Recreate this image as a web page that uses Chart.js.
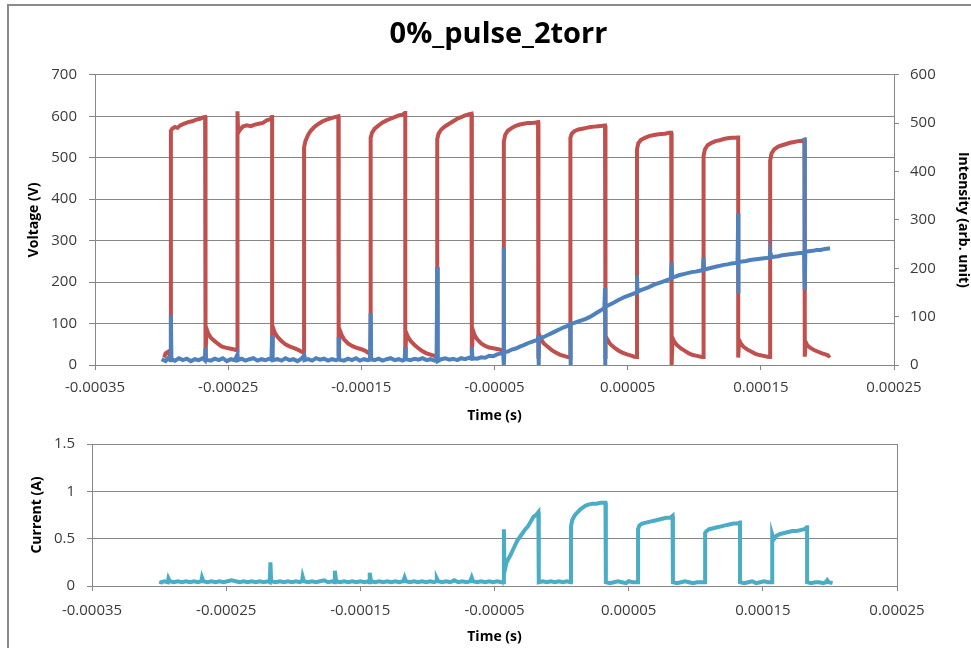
<!DOCTYPE html>
<html>
<head>
<meta charset="utf-8">
<script src="https://cdn.jsdelivr.net/npm/chart.js@4/dist/chart.umd.min.js"></script>
<style>
  html, body { margin:0; padding:0; background:#fff; width:971px; height:648px; overflow:hidden; }
  #frame { position:absolute; left:7px; top:4px; width:980px; height:660px; border-left:2px solid #8a8a8a; border-top:2px solid #8a8a8a; box-sizing:border-box; }
  canvas { position:absolute; left:0; }
  #c1 { top:0; }
  #c2 { top:430px; }
</style>
</head>
<body>
<div id="frame"></div>
<canvas id="c1" width="971" height="430"></canvas>
<canvas id="c2" width="971" height="218"></canvas>
<script>
// ---- Data (time in microseconds) ----
const chartTitle = '0%_pulse_2torr';
const xTickValues = [-0.00035, -0.00025, -0.00015, -0.00005, 0.00005, 0.00015, 0.00025];

// Voltage (V) : [time µs, volts]
const voltage = [
  [-298,18],[-297,28],[-295,32],[-294,24],[-293.2,22],
  [-293,22],[-293,565],[-292,570],[-290,574],[-288,572],[-286,578],[-283,582],[-280,586],[-277,588],[-274,592],[-271,594],[-269,597],[-267.3,598],
  [-267,598],[-267,22],[-266.3,88],[-265,76],[-263,66],[-261,60],[-258,52],[-255,45],[-252,42],[-249,40],[-246,38],[-244,36],[-243.2,35],
  [-243,35],[-243,612],[-242.5,560],[-241,568],[-239,575],[-236,578],[-233,576],[-230,580],[-227,582],[-224,584],[-221,590],[-218,593],[-217.3,598],
  [-217,598],[-217,25],[-216.3,90],[-215,78],[-213,68],[-210,58],[-207,50],[-204,45],[-200,40],[-197,36],[-195,32],[-193.2,30],
  [-193,30],[-193,525],[-192,540],[-190,555],[-188,565],[-185,575],[-182,582],[-179,588],[-176,592],[-173,595],[-170,598],[-167.3,600],
  [-167,600],[-167,22],[-166.3,85],[-165,74],[-163,62],[-160,52],[-157,46],[-154,42],[-150,38],[-147,34],[-145,30],[-143.2,28],
  [-143,28],[-143,548],[-142,560],[-140,570],[-137,578],[-134,585],[-131,590],[-128,594],[-125,598],[-122,602],[-119,604],[-117.3,608],
  [-117,608],[-117,20],[-116.3,78],[-115,68],[-113,58],[-110,48],[-107,40],[-104,33],[-101,28],[-98,25],[-95,22],[-93.2,20],
  [-93,20],[-93,545],[-92,558],[-90,568],[-87,576],[-84,582],[-81,588],[-78,594],[-75,598],[-72,602],[-69,605],[-67.3,606],
  [-67,606],[-67,28],[-66.3,85],[-65,72],[-63,62],[-60,52],[-57,46],[-54,42],[-50,40],[-47,38],[-45,36],[-43.2,35],
  [-43,35],[-43,538],[-42,555],[-40,565],[-37,572],[-34,577],[-31,580],[-28,582],[-25,584],[-22,584],[-19,585],[-17.3,586],
  [-17,586],[-17,15],[-16.3,72],[-15,62],[-13,52],[-10,44],[-7,36],[-4,30],[-1,25],[2,22],[5,19],[6.8,18],
  [7,18],[7,548],[8,558],[10,564],[13,568],[16,570],[19,572],[22,574],[25,575],[28,576],[31,577],[32.7,578],
  [33,578],[33,15],[33.7,70],[35,60],[37,50],[40,42],[43,35],[46,30],[49,26],[52,23],[55,20],[56.8,19],
  [57,19],[57,520],[58,535],[60,543],[63,548],[66,552],[69,554],[72,556],[75,557],[78,558],[81,560],[82.7,560],
  [83,560],[83,0],[83.7,65],[85,56],[87,48],[90,40],[93,34],[96,28],[99,24],[102,22],[105,20],[106.8,19],
  [107,19],[107,505],[108,520],[110,530],[113,536],[116,540],[119,542],[122,545],[125,547],[128,548],[131,548],[132.7,549],
  [133,549],[133,18],[133.7,60],[135,52],[137,44],[140,37],[143,32],[146,27],[149,24],[152,22],[155,20],[156.8,19],
  [157,19],[157,493],[158,510],[160,520],[163,527],[166,530],[169,533],[172,536],[175,538],[178,540],[181,541],[182.7,543],
  [183,543],[183,20],[183.7,55],[185,47],[187,42],[190,36],[193,32],[196,28],[199,25],[201,22],[202,24]
];

// Intensity (arb. unit) : [time µs, intensity]
const intensity = [
  [-300,12],[-297,8],[-295,14],[-293.5,10],[-293,10],[-293,103],[-292.6,12],[-290,9],[-287,14],[-284,10],[-281,13],[-278,8],[-275,12],[-272,10],[-269,14],[-267.5,10],
  [-267,35],[-266.6,11],[-263,9],[-260,13],[-257,10],[-254,14],[-251,8],[-248,12],[-245,10],[-243,22],[-242.6,10],[-240,13],[-237,9],[-234,12],[-231,14],[-228,9],[-225,12],[-222,10],[-219,13],[-217.5,11],
  [-217,62],[-216.6,10],[-213,12],[-210,9],[-207,14],[-204,10],[-201,12],[-198,8],[-195,13],[-193,20],[-192.6,10],[-190,12],[-187,9],[-184,14],[-181,11],[-178,13],[-175,9],[-172,12],[-169,10],[-167.5,12],
  [-167,58],[-166.6,11],[-163,9],[-160,13],[-157,10],[-154,14],[-151,9],[-148,12],[-145,10],[-143.5,11],[-143,107],[-142.6,12],[-140,10],[-137,13],[-134,9],[-131,12],[-128,14],[-125,10],[-122,12],[-119,9],[-117.5,11],
  [-117,37],[-116.6,12],[-113,10],[-110,13],[-107,11],[-104,14],[-101,10],[-98,12],[-95,9],[-93.5,11],[-93,202],[-92.6,8],[-90,12],[-87,14],[-84,11],[-81,13],[-78,10],[-75,14],[-72,12],[-69,15],[-67.5,13],
  [-67,37],[-66.6,14],[-63,13],[-60,16],[-57,15],[-54,19],[-51,18],[-48,22],[-45,24],[-43.5,25],[-43,243],[-43,0],[-42.6,27],[-40,28],[-37,32],[-34,34],[-31,38],[-28,41],[-25,45],[-22,48],[-19,51],[-17.5,52],
  [-17,62],[-17,0],[-16.6,54],[-13,58],[-10,62],[-7,66],[-4,70],[-1,74],[2,78],[5,81],[6.5,83],[7,72],[7,0],[7.4,85],[10,87],[13,90],[16,93],[19,96],[22,100],[25,105],[28,110],[31,115],[32.5,118],
  [33,159],[33,0],[33.4,120],[36,124],[39,128],[42,133],[45,137],[48,141],[51,144],[54,147],[56.5,150],[57,185],[57.4,151],[60,155],[63,158],[66,161],[69,165],[72,168],[75,171],[78,174],[81,177],[82.5,179],
  [83,212],[83.4,181],[86,183],[89,186],[92,188],[95,190],[98,192],[101,193],[104,195],[106.5,196],[107,222],[107.4,197],[110,199],[113,201],[116,203],[119,205],[122,207],[125,208],[128,210],[131,211],[132.5,212],
  [133,313],[133,148],[133.4,213],[136,214],[139,215],[142,217],[145,218],[148,219],[151,220],[154,221],[156.5,222],[157,232],[157.4,223],[160,224],[163,225],[166,227],[169,228],[172,229],[175,230],[178,231],[181,232],[182.5,233],
  [183,470],[183,155],[183.4,234],[186,235],[189,236],[192,238],[195,238],[198,240],[201,241],[202,241]
];

// Current (A) : [time µs, amps]
const current = [
  [-299,0.02],[-298.5,0.04],[-296,0.05],[-293.5,0.04],[-293,0.08],[-292,0.05],[-289,0.04],[-286,0.05],[-283,0.04],[-280,0.05],[-277,0.04],[-274,0.05],[-271,0.04],[-268.5,0.05],
  [-268,0.09],[-267,0.05],[-264,0.04],[-261,0.05],[-258,0.04],[-255,0.05],[-252,0.04],[-249,0.05],[-246,0.06],[-243,0.05],[-240,0.04],[-237,0.05],[-234,0.04],[-231,0.05],[-228,0.04],[-225,0.05],[-222,0.04],[-219,0.05],[-217.5,0.04],
  [-217,0.25],[-216.5,0.05],[-213,0.04],[-210,0.05],[-207,0.04],[-204,0.05],[-201,0.04],[-198,0.05],[-195,0.04],[-193.5,0.05],[-193,0.10],[-192,0.05],[-189,0.04],[-186,0.05],[-183,0.04],[-180,0.05],[-177,0.06],[-174,0.04],[-171,0.05],[-169.5,0.04],
  [-169,0.16],[-168,0.05],[-165,0.04],[-162,0.05],[-159,0.04],[-156,0.05],[-153,0.04],[-150,0.05],[-147,0.04],[-144,0.05],[-143.5,0.04],[-143,0.14],[-142,0.05],[-139,0.04],[-136,0.05],[-133,0.04],[-130,0.05],[-127,0.04],[-124,0.05],[-121,0.04],[-118,0.05],
  [-117,0.09],[-116,0.05],[-113,0.04],[-110,0.05],[-107,0.04],[-104,0.05],[-101,0.04],[-98,0.05],[-95,0.04],[-93.5,0.05],[-93,0.08],[-92,0.05],[-89,0.04],[-86,0.05],[-83,0.04],[-80,0.06],[-77,0.04],[-74,0.05],[-71,0.04],[-68,0.05],
  [-67,0.09],[-66,0.05],[-63,0.04],[-60,0.05],[-57,0.04],[-54,0.05],[-51,0.04],[-48,0.05],[-45,0.04],[-43.2,0.04],
  [-43,0.04],[-43,0.60],[-42.6,0.15],[-41,0.25],[-38,0.33],[-35,0.42],[-33,0.48],[-31,0.52],[-29,0.56],[-27,0.60],[-25,0.63],[-23,0.68],[-21,0.73],[-19,0.75],[-17.3,0.78],
  [-17,0.78],[-17,0.04],[-14,0.05],[-11,0.04],[-8,0.05],[-5,0.04],[-2,0.05],[1,0.04],[4,0.05],[6.8,0.04],
  [7,0.04],[7,0.63],[8,0.70],[10,0.75],[12,0.78],[14,0.81],[16,0.83],[18,0.85],[20,0.86],[23,0.87],[26,0.87],[29,0.88],[32.7,0.88],
  [33,0.88],[33,0.04],[36,0.03],[39,0.04],[42,0.05],[45,0.04],[48,0.03],[50,0.05],[53,0.04],[56.8,0.04],
  [57,0.04],[57,0.60],[58,0.64],[60,0.66],[63,0.67],[66,0.68],[69,0.69],[72,0.70],[75,0.71],[78,0.72],[81,0.72],[82.7,0.74],
  [83,0.74],[83,0.04],[86,0.03],[89,0.04],[92,0.05],[95,0.04],[98,0.03],[101,0.04],[104,0.04],[106.8,0.04],
  [107,0.04],[107,0.56],[108,0.58],[110,0.60],[113,0.61],[116,0.62],[119,0.63],[122,0.64],[125,0.65],[128,0.66],[131,0.66],[132.7,0.67],
  [133,0.67],[133,0.04],[136,0.03],[139,0.04],[142,0.05],[145,0.03],[148,0.04],[151,0.05],[154,0.04],[156.8,0.04],
  [157,0.04],[157,0.54],[158,0.49],[160,0.53],[163,0.55],[166,0.56],[169,0.57],[172,0.58],[175,0.58],[178,0.59],[181,0.60],[182.7,0.62],
  [183,0.62],[183,0.04],[186,0.03],[189,0.04],[192,0.04],[195,0.03],[197,0.04],[198,0.06],[199,0.04],[202,0.03]
];

// ---- helpers ----
const toPts = arr => arr.map(p => ({ x: p[0] * 1e-6, y: p[1] }));
const fmtNum = v => String(Number(Number(v).toPrecision(6)));
const FONT = "'Open Sans', 'DejaVu Sans', sans-serif";
const GRID = '#868686';
const TXT = '#3a3a3a';
const tickFont = { family: FONT, size: 15 };
const titleFont = { family: FONT, size: 14, weight: 'bold' };
const setXTicks = ax => { ax.ticks = xTickValues.map(v => ({ value: v })); };

// ---- top chart ----
new Chart(document.getElementById('c1'), {
  type: 'scatter',
  data: {
    datasets: [
      { label: 'Intensity', data: toPts(intensity), yAxisID: 'y1', showLine: true, borderColor: '#4F81BD', backgroundColor: '#4F81BD', borderWidth: 4, pointRadius: 0, tension: 0, order: 0 },
      { label: 'Voltage', data: toPts(voltage), yAxisID: 'y', showLine: true, borderColor: '#C0504D', backgroundColor: '#C0504D', borderWidth: 4, pointRadius: 0, tension: 0, order: 1 }
    ]
  },
  options: {
    responsive: false, animation: false, events: [],
    layout: { padding: { left: 26, right: 0, top: 17, bottom: 0 } },
    plugins: {
      legend: { display: false }, tooltip: { enabled: false },
      title: { display: true, text: chartTitle, color: '#000', font: { family: FONT, size: 29, weight: 'bold' }, padding: { top: 0, bottom: 23 } }
    },
    scales: {
      x: {
        type: 'linear', min: -0.00035, max: 0.00025,
        afterBuildTicks: setXTicks,
        afterFit: s => { s.height = 65; },
        ticks: { callback: v => fmtNum(v), font: tickFont, color: TXT, padding: 9, maxRotation: 0, autoSkip: false },
        grid: { drawOnChartArea: false, drawTicks: true, tickLength: 5, color: GRID },
        border: { color: GRID, width: 1 },
        title: { display: true, text: 'Time (s)', font: titleFont, color: '#000', padding: { top: 0, bottom: 6 } }
      },
      y: {
        position: 'left', min: 0, max: 700,
        afterFit: s => { s.width = 69; },
        ticks: { stepSize: 100, font: tickFont, color: TXT, padding: 12 },
        grid: { color: GRID, tickLength: 6, lineWidth: 1 },
        border: { color: GRID, width: 1 },
        title: { display: true, text: 'Voltage (V)', font: titleFont, color: '#000', padding: { top: 0, bottom: 0 } }
      },
      y1: {
        position: 'right', min: 0, max: 600,
        afterFit: s => { s.width = 77; },
        ticks: { stepSize: 100, font: tickFont, color: TXT, padding: 11 },
        grid: { drawOnChartArea: false, tickLength: 5, color: GRID },
        border: { color: GRID, width: 1 },
        title: { display: true, text: 'Intensity (arb. unit)', font: titleFont, color: '#000', padding: { top: 0, bottom: 0 } }
      }
    }
  }
});

// ---- bottom chart ----
const rightBorder = {
  id: 'rightBorder',
  afterDraw(chart) {
    const { ctx, chartArea: a } = chart;
    ctx.save();
    ctx.strokeStyle = GRID; ctx.lineWidth = 1;
    ctx.beginPath(); ctx.moveTo(Math.round(a.right) + 0.5, a.top); ctx.lineTo(Math.round(a.right) + 0.5, a.bottom); ctx.stroke();
    ctx.restore();
  }
};

new Chart(document.getElementById('c2'), {
  type: 'scatter',
  data: {
    datasets: [
      { label: 'Current', data: toPts(current), showLine: true, borderColor: '#4BACC6', backgroundColor: '#4BACC6', borderWidth: 4, pointRadius: 0, tension: 0 }
    ]
  },
  options: {
    responsive: false, animation: false, events: [],
    layout: { padding: { left: 29, right: 74, top: 14, bottom: 0 } },
    plugins: { legend: { display: false }, tooltip: { enabled: false } },
    scales: {
      x: {
        type: 'linear', min: -0.00035, max: 0.00025,
        afterBuildTicks: setXTicks,
        afterFit: s => { s.height = 62; s.paddingLeft = 0; s.paddingRight = 0; },
        ticks: { callback: v => fmtNum(v), font: tickFont, color: TXT, padding: 11, maxRotation: 0, autoSkip: false },
        grid: { drawOnChartArea: false, drawTicks: true, tickLength: 5, color: GRID },
        border: { color: GRID, width: 1 },
        title: { display: true, text: 'Time (s)', font: titleFont, color: '#000', padding: { top: 0, bottom: 3 } }
      },
      y: {
        position: 'left', min: 0, max: 1.5,
        afterFit: s => { s.width = 63; s.paddingTop = 0; s.paddingBottom = 0; },
        ticks: { stepSize: 0.5, callback: v => fmtNum(v), font: tickFont, color: TXT, padding: 12 },
        grid: { color: GRID, tickLength: 5 },
        border: { color: GRID, width: 1 },
        title: { display: true, text: 'Current (A)', font: titleFont, color: '#000', padding: { top: 0, bottom: 0 } }
      }
    }
  },
  plugins: [rightBorder]
});
</script>
</body>
</html>
